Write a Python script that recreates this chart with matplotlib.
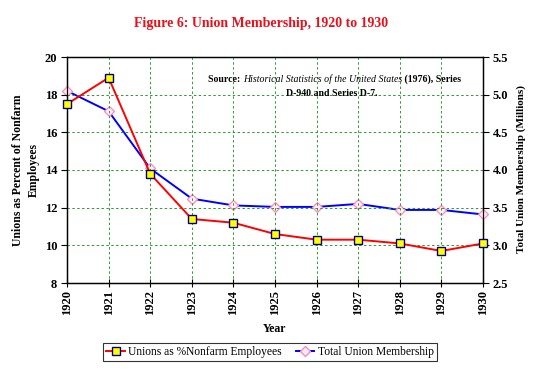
import matplotlib
matplotlib.use("Agg")
import matplotlib.pyplot as plt
from matplotlib.lines import Line2D

plt.rcParams['font.family'] = ['Liberation Serif', 'DejaVu Serif']

years = [1920, 1921, 1922, 1923, 1924, 1925, 1926, 1927, 1928, 1929, 1930]
pct_nonfarm = [17.5, 18.9, 13.8, 11.4, 11.2, 10.6, 10.3, 10.3, 10.1, 9.7, 10.1]
membership = [5.05, 4.78, 4.02, 3.62, 3.53, 3.51, 3.51, 3.55, 3.47, 3.47, 3.41]
left_ticks = [8, 10, 12, 14, 16, 18, 20]
right_ticks = [2.5, 3.0, 3.5, 4.0, 4.5, 5.0, 5.5]

fig = plt.figure(figsize=(5.4, 3.69), dpi=100)
ax = fig.add_axes([67/540, 1-283/369, (483-67)/540, (283-57)/369])
ax2 = ax.twinx()

grid_col = '#2e9a2e'
for y in years:
    ax.axvline(y, color=grid_col, lw=0.7, ls=(0, (2.5, 2.5)), zorder=0)
for t in left_ticks[1:-1]:
    ax.axhline(t, color=grid_col, lw=0.7, ls=(0, (2.5, 2.5)), zorder=0)

ax2.plot(years, membership, color='#0000ff', lw=1.4, marker='D', ms=5,
         mfc='#fff0f8', mec='#ff88bb', mew=0.9, zorder=3, clip_on=False)
ax.plot(years, pct_nonfarm, color='#ff0000', lw=1.4, marker='s', ms=5.5,
        mfc='#ffff00', mec='#000080', mew=1.0, zorder=4, clip_on=False)

ax.set_xlim(1920, 1930)
ax.set_ylim(8, 20)
ax2.set_ylim(2.5, 5.5)
ax.set_xticks(years)
ax.set_xticklabels([str(y) for y in years], rotation=90, fontweight='bold', fontsize=9)
ax.set_yticks(left_ticks)
ax.set_yticklabels([str(t) for t in left_ticks], fontweight='bold', fontsize=9)
ax2.set_yticks(right_ticks)
ax2.set_yticklabels([f"{t:.1f}" for t in right_ticks], fontweight='bold', fontsize=9)

ax.tick_params(axis='x', direction='inout', length=6, width=0.8, pad=2)
ax.tick_params(axis='y', direction='out', length=4, width=0.8, pad=3)
ax2.tick_params(axis='y', direction='out', length=4, width=0.8, pad=3)
for s in ax.spines.values():
    s.set_linewidth(0.9)
for s in ax2.spines.values():
    s.set_linewidth(0.9)

ax.set_zorder(ax2.get_zorder() + 1)
ax.patch.set_visible(False)

ax.set_xlabel('Year', fontweight='bold', fontsize=8.5, labelpad=6)
fig.text(18/540, 1-170/369, 'Unions as Percent of Nonfarm', rotation=90,
         fontweight='bold', fontsize=8.5, ha='center', va='center')
fig.text(34/540, 1-170/369, 'Employees', rotation=90,
         fontweight='bold', fontsize=8.5, ha='center', va='center')
fig.text(521/540, 1-169/369, 'Total Union Membership (Millions)', rotation=90,
         fontweight='bold', fontsize=8, ha='center', va='center')

fig.text(261/540, 1-23/369, 'Figure 6: Union Membership, 1920 to 1930', color='#e8101a',
         fontweight='bold', fontsize=10, ha='center', va='center')

# Source note
fs = 7.1
t1 = fig.text(208/540, 1-82/369, 'Source: ', fontweight='bold', fontsize=fs,
              ha='left', va='baseline')
t2 = ax.annotate('Historical Statistics of the United States', xy=(1, 0), xycoords=t1,
                 fontstyle='italic', fontsize=fs, ha='left', va='bottom')
t3 = ax.annotate(' (1976), Series', xy=(1, 0), xycoords=t2,
                 fontweight='bold', fontsize=fs, ha='left', va='bottom')
fig.text(332/540, 1-96/369, 'D-940 and Series D-7.', fontweight='bold', fontsize=fs,
         ha='center', va='baseline')

handles = [
    Line2D([], [], color='#ff0000', lw=1.4, marker='s', ms=5.5, mfc='#ffff00', mec='#000080'),
    Line2D([], [], color='#0000ff', lw=1.4, marker='D', ms=5, mfc='#fff0f8', mec='#ff88bb'),
]
leg = fig.legend(handles, ['Unions as %Nonfarm Employees', 'Total Union Membership'],
                 loc='center', bbox_to_anchor=(270/540, 1-352/369), ncol=2,
                 frameon=True, fancybox=False, edgecolor='black', fontsize=8.3,
                 handlelength=1.6, handletextpad=0.3, columnspacing=1.2,
                 borderpad=0.3)
leg.get_frame().set_linewidth(0.8)

fig.savefig('out.png', dpi=100)
